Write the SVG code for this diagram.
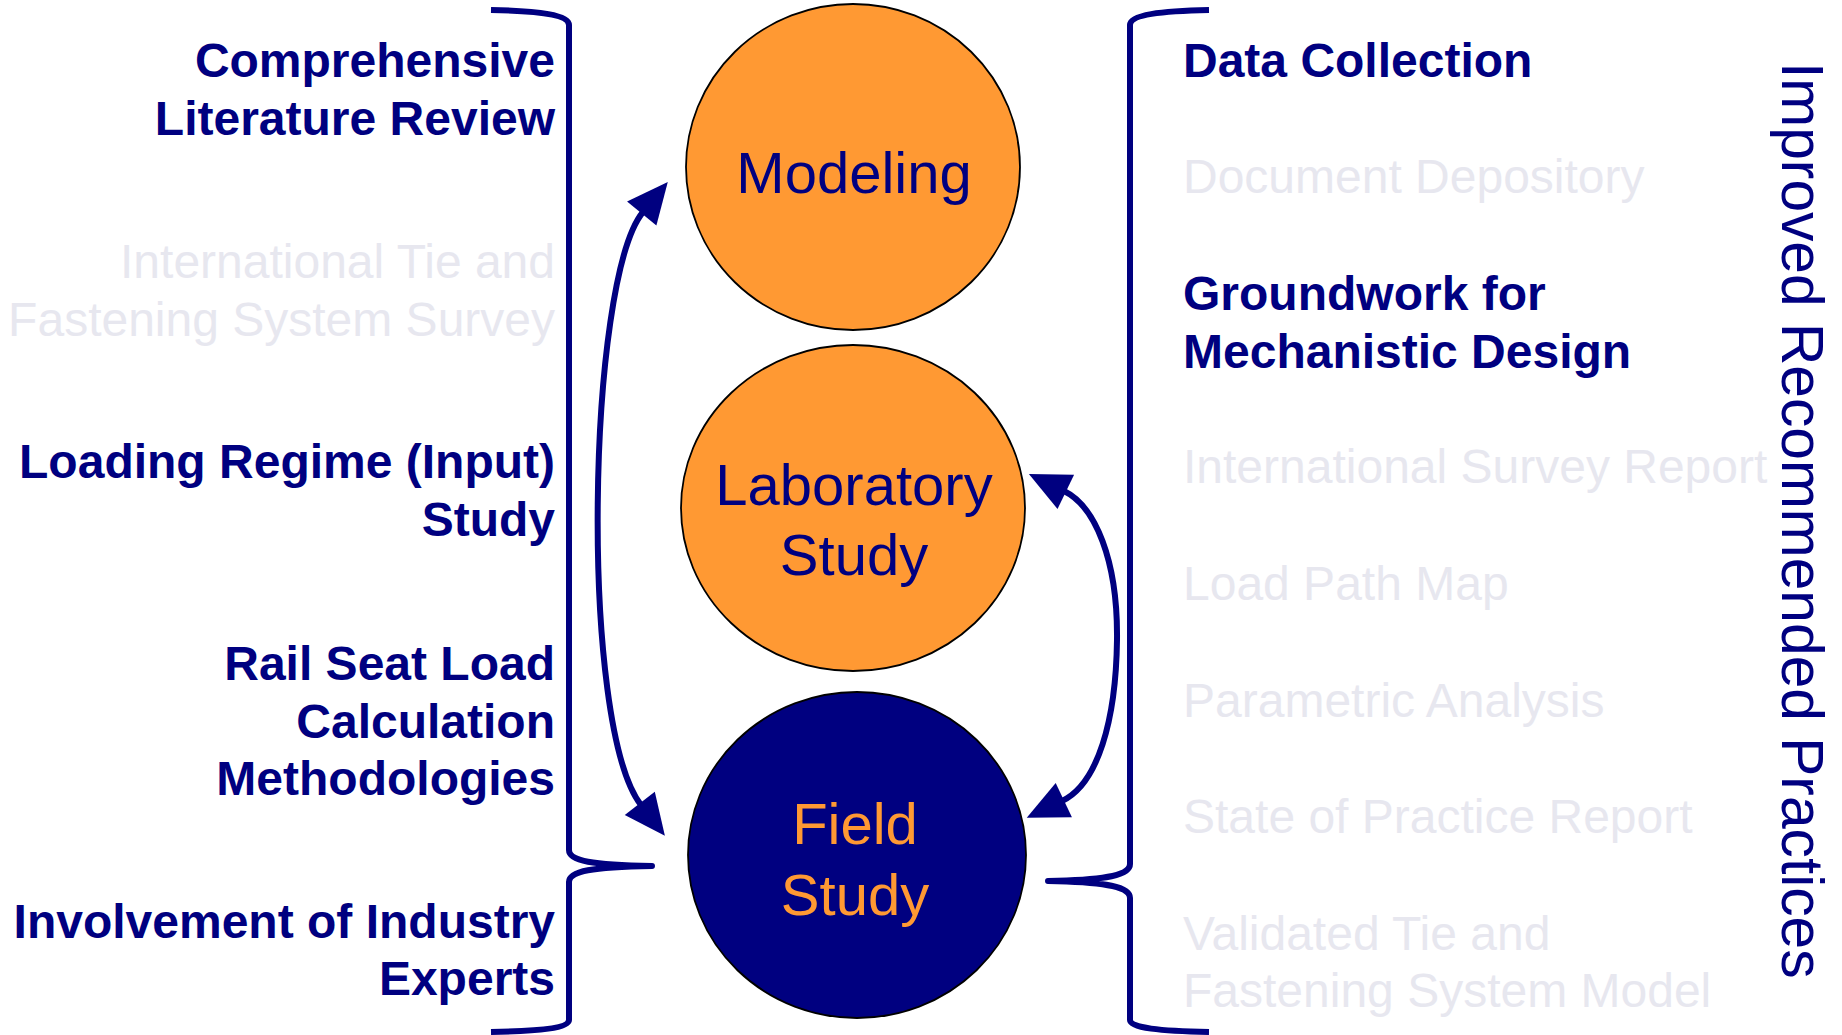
<svg xmlns="http://www.w3.org/2000/svg" width="1842" height="1035" viewBox="0 0 1842 1035">
<style>
  text { font-family: "Liberation Sans", Arial, sans-serif; }
  .lb { font-size: 48px; font-weight: bold; fill: #000080; }
  .lg { font-size: 48px; fill: #E7E7EF; }
  .r { text-anchor: end; }
  .node { stroke: #000; stroke-width: 1.8; }
  .orange { fill: #FF9933; }
  .navy { fill: #000080; }
  .ntxt { font-size: 58px; text-anchor: middle; }
  .brace { fill: none; stroke: #000080; stroke-width: 6; stroke-linejoin: round; }
  .conn { fill: none; stroke: #000080; stroke-width: 6; }
</style>
<defs>
  <marker id="head" markerUnits="userSpaceOnUse" markerWidth="44" markerHeight="42" viewBox="-2 -21 44 42" refX="2" refY="0" orient="auto-start-reverse">
    <path d="M0,-19 L41,0 L0,19 z" fill="#000080"/>
  </marker>
</defs>
<rect width="1842" height="1035" fill="#fff"/>

<g id="left-brace">
  <path class="brace" d="M491,10 C540,11 569,15 569,25 L569,850 C569,861 592,865 652,866 C592,867 569,871 569,882 L569,1020 C569,1028 540,1031 491,1032"/>
</g>
<g id="right-brace">
  <path class="brace" d="M1209,10 C1160,11 1130,15 1130,25 L1130,864 C1130,875 1108,880 1048,881 C1108,882 1130,887 1130,898 L1130,1020 C1130,1028 1160,1031 1209,1032"/>
</g>

<g id="left-items">
  <text class="lb r" x="555" y="77">Comprehensive</text>
  <text class="lb r" x="555" y="135">Literature Review</text>
  <text class="lg r" x="555" y="278">International Tie and</text>
  <text class="lg r" x="555" y="336">Fastening System Survey</text>
  <text class="lb r" x="555" y="478">Loading Regime (Input)</text>
  <text class="lb r" x="555" y="536">Study</text>
  <text class="lb r" x="555" y="680">Rail Seat Load</text>
  <text class="lb r" x="555" y="738">Calculation</text>
  <text class="lb r" x="555" y="795">Methodologies</text>
  <text class="lb r" x="555" y="938">Involvement of Industry</text>
  <text class="lb r" x="555" y="995">Experts</text>
</g>

<g id="right-items">
  <text class="lb" x="1183" y="77">Data Collection</text>
  <text class="lg" x="1183" y="193">Document Depository</text>
  <text class="lb" x="1183" y="310">Groundwork for</text>
  <text class="lb" x="1183" y="368">Mechanistic Design</text>
  <text class="lg" x="1183" y="483">International Survey Report</text>
  <text class="lg" x="1183" y="600">Load Path Map</text>
  <text class="lg" x="1183" y="717">Parametric Analysis</text>
  <text class="lg" x="1183" y="833">State of Practice Report</text>
  <text class="lg" x="1183" y="950">Validated Tie and</text>
  <text class="lg" x="1183" y="1007">Fastening System Model</text>
</g>

<g id="outcome">
  <text transform="translate(1782,62) rotate(90)" font-size="58.7" fill="#000080">Improved Recommended Practices</text>
</g>

<g id="modeling">
  <ellipse class="node orange" cx="853" cy="167" rx="167" ry="163"/>
  <text class="ntxt navy" x="854" y="193">Modeling</text>
</g>
<g id="laboratory">
  <ellipse class="node orange" cx="853" cy="508" rx="172" ry="163"/>
  <text class="ntxt navy" x="854" y="505">Laboratory</text>
  <text class="ntxt navy" x="854" y="575">Study</text>
</g>
<g id="field">
  <ellipse class="node navy" cx="857" cy="855" rx="169" ry="163"/>
  <text class="ntxt orange" x="855" y="844">Field</text>
  <text class="ntxt orange" x="855" y="915">Study</text>
</g>

<g id="connectors">
  <path class="conn" d="M643,212 C587,280 579,725 641,805" marker-start="url(#head)" marker-end="url(#head)"/>
  <path class="conn" d="M1064,491 C1095,506 1118,560 1117,640 C1116,720 1098,784 1062,801" marker-start="url(#head)" marker-end="url(#head)"/>
</g>
</svg>
